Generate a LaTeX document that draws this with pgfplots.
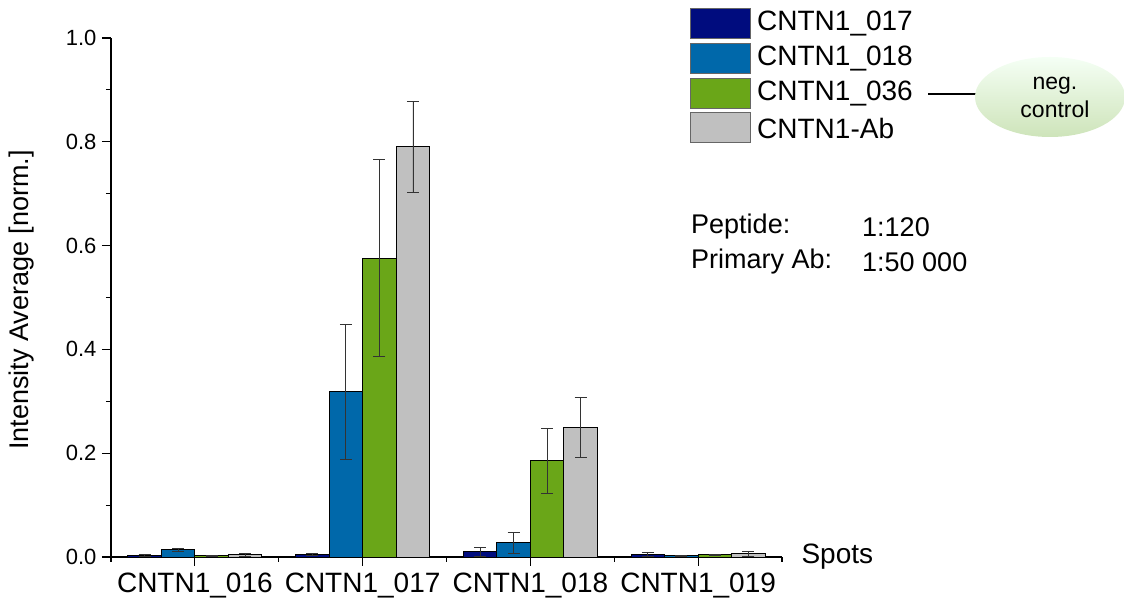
\documentclass[border=0pt]{standalone}
\usepackage{fontspec}
\setmainfont{Liberation Sans}
\usepackage{pgfplots}
\pgfplotsset{compat=1.18}

\definecolor{cA}{RGB}{0,12,126}
\definecolor{cB}{RGB}{0,104,170}
\definecolor{cC}{RGB}{106,166,24}
\definecolor{cD}{RGB}{192,192,192}

% bars sit at their own x positions (group centre -0.3, -0.1, +0.1, +0.3)
\pgfplotsset{
  spotbar/.style={ybar, bar width=0.2, bar shift=0, draw=black, line width=1bp,
    error bars/y dir=both, error bars/y explicit,
    error bars/error bar style={line width=0.9bp, color=black!80},
    error bars/error mark options={rotate=90, mark size=6bp, line width=0.9bp, color=black!80}},
}

\begin{document}
\begin{tikzpicture}
\useasboundingbox (0,0) rectangle (1124bp,607bp);
\begin{axis}[
  at={(111bp,50bp)}, anchor=south west,
  scale only axis, width=671bp, height=519bp,
  xmin=0, xmax=4, ymin=0, ymax=1,
  axis x line*=bottom, axis y line*=left,
  axis line style={line width=1.3bp},
  every tick/.style={black, line width=1.1bp},
  tick align=outside,
  major tick length=9bp, minor tick length=5bp,
  xtick={0.5,1.5,2.5,3.5},
  xticklabels={CNTN1\_016,CNTN1\_017,CNTN1\_018,CNTN1\_019},
  minor xtick={0,1,2,3,4},
  ytick={0,0.2,0.4,0.6,0.8,1.0},
  minor ytick={0.1,0.3,0.5,0.7,0.9},
  /pgf/number format/assume math mode=true,
  y tick label style={/pgf/number format/fixed, /pgf/number format/fixed zerofill, /pgf/number format/precision=1},
  xticklabel style={font=\fontsize{28bp}{32bp}\selectfont, yshift=-3bp},
  yticklabel style={font=\fontsize{22bp}{26bp}\selectfont, xshift=-2bp},
  clip=false,
]
% CNTN1_017 peptide
\addplot[spotbar, fill=cA] coordinates {
  (0.2,0.003) +- (0,0.001)
  (1.2,0.005) +- (0,0.002)
  (2.2,0.010) +- (0,0.009)
  (3.2,0.005) +- (0,0.003)
};
% CNTN1_018 peptide
\addplot[spotbar, fill=cB] coordinates {
  (0.4,0.014) +- (0,0.003)
  (1.4,0.318) +- (0,0.130)
  (2.4,0.027) +- (0,0.021)
  (3.4,0.002) +- (0,0.001)
};
% CNTN1_036 peptide (negative control)
\addplot[spotbar, fill=cC] coordinates {
  (0.6,0.002) +- (0,0.001)
  (1.6,0.576) +- (0,0.190)
  (2.6,0.185) +- (0,0.063)
  (3.6,0.004) +- (0,0.001)
};
% CNTN1 antibody
\addplot[spotbar, fill=cD] coordinates {
  (0.8,0.004) +- (0,0.003)
  (1.8,0.790) +- (0,0.087)
  (2.8,0.250) +- (0,0.058)
  (3.8,0.006) +- (0,0.004)
};
\node[anchor=west, font=\fontsize{28bp}{32bp}\selectfont] at (rel axis cs:1,0) [xshift=16bp] {Spots};
\end{axis}

% y axis title
\node[rotate=90, font=\fontsize{27bp}{31bp}\selectfont] at (22bp,307bp) {Intensity Average [norm.]};

% legend
\foreach \c/\t/\y in {cA/CNTN1\_017/583, cB/CNTN1\_018/548, cC/CNTN1\_036/513, cD/CNTN1-Ab/479}{
  \draw[fill=\c, draw=black!60, line width=1bp] (690bp,\y bp-15bp) rectangle (750bp,\y bp+15bp);
  \node[anchor=west, font=\fontsize{28bp}{32bp}\selectfont, inner sep=0pt] at (757bp,\y bp) {\t};
}

% negative control marker
\draw[line width=1.8bp] (928bp,513bp) -- (976bp,513bp);
\shade[top color=green!4!white, bottom color={rgb,255:red,206;green,228;blue,186}] (1050bp,510bp) ellipse [x radius=75bp, y radius=40bp];
\node[align=center, font=\fontsize{23bp}{28bp}\selectfont] at (1055bp,510bp) {neg.\\control};

% dilution info
\begin{scope}[every node/.style={anchor=west, inner sep=0pt, font=\fontsize{27bp}{31bp}\selectfont}]
  \node at (691bp,380bp) {Peptide:};
  \node at (862bp,380bp) {1:120};
  \node at (691bp,345bp) {Primary Ab:};
  \node at (862bp,345bp) {1:50 000};
\end{scope}
\end{tikzpicture}
\end{document}
